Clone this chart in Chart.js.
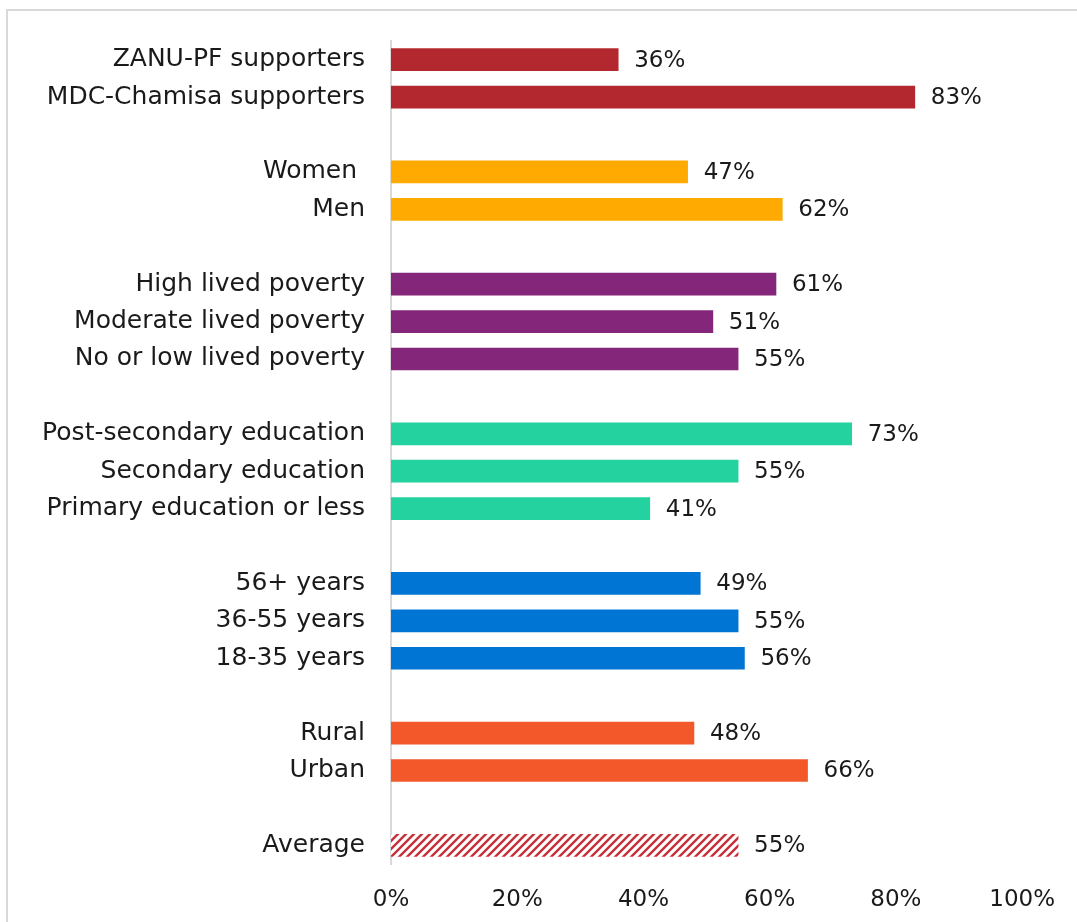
<!DOCTYPE html>
<html>
<head>
<meta charset="utf-8">
<script src="https://cdn.jsdelivr.net/npm/chart.js@4.4.1/dist/chart.umd.min.js"></script>
<style>
  body { margin: 0; background: #fff; overflow: hidden; }
  #frame { position: absolute; left: 6px; top: 9px; width: 1100px; height: 1000px; border: 2px solid #d9d9d9; }
  #barChart { position: absolute; left: 0; top: 0; }
</style>
</head>
<body>
<div id="frame"></div>
<canvas id="barChart" width="1077" height="922"></canvas>
<script>
    // data, blank entries are the gaps between groups
    const categories = [
        'ZANU-PF supporters', 'MDC-Chamisa supporters', '',
        'Women ', 'Men', '',
        'High lived poverty', 'Moderate lived poverty', 'No or low lived poverty', '',
        'Post-secondary education', 'Secondary education', 'Primary education or less', '',
        '56+ years', '36-55 years', '18-35 years', '',
        'Rural', 'Urban', '',
        'Average'
    ];
    const values = [
        36, 83, null,
        47, 62, null,
        61, 51, 55, null,
        73, 55, 41, null,
        49, 55, 56, null,
        48, 66, null,
        55
    ];
    const groupOf = [
        'party', 'party', null,
        'gender', 'gender', null,
        'poverty', 'poverty', 'poverty', null,
        'edu', 'edu', 'edu', null,
        'age', 'age', 'age', null,
        'area', 'area', null,
        'avg'
    ];
    const xTicks = [0, 20, 40, 60, 80, 100];

    const groupColors = {
        party: '#b3282e',
        gender: '#ffaa00',
        poverty: '#84267a',
        edu: '#23d29f',
        age: '#0075d4',
        area: '#f25829'
    };

    const FONT = 'DejaVu Sans';

    function hatchPattern() {
        const c = document.createElement('canvas');
        const s = 8;
        c.width = s; c.height = s;
        const g = c.getContext('2d');
        g.fillStyle = '#fff';
        g.fillRect(0, 0, s, s);
        g.strokeStyle = '#c8303a';
        g.lineWidth = 2.4;
        g.beginPath();
        g.moveTo(-1, s + 1); g.lineTo(s + 1, -1);
        g.moveTo(-1, 1); g.lineTo(1, -1);
        g.moveTo(s - 1, s + 1); g.lineTo(s + 1, s - 1);
        g.stroke();
        return document.getElementById('barChart').getContext('2d').createPattern(c, 'repeat');
    }

    const hatch = hatchPattern();
    const barColors = groupOf.map(g => g === 'avg' ? hatch : (g ? groupColors[g] : 'rgba(0,0,0,0)'));

    // value labels at the end of each bar
    const endLabels = {
        id: 'endLabels',
        afterDatasetsDraw(chart) {
            const ctx = chart.ctx;
            const meta = chart.getDatasetMeta(0);
            ctx.save();
            ctx.font = '23px "' + FONT + '"';
            ctx.fillStyle = '#1a1a1a';
            ctx.textAlign = 'left';
            ctx.textBaseline = 'middle';
            meta.data.forEach((bar, i) => {
                if (values[i] == null) return;
                ctx.fillText(values[i] + '%', bar.x + 16, bar.y + 1);
            });
            ctx.restore();
        }
    };

    const ctx = document.getElementById('barChart').getContext('2d');
    new Chart(ctx, {
        type: 'bar',
        data: {
            labels: categories,
            datasets: [{
                data: values,
                backgroundColor: barColors,
                barThickness: 22
            }]
        },
        options: {
            indexAxis: 'y',
            responsive: false,
            animation: false,
            layout: { padding: { left: 0, top: 38, right: 50, bottom: 0 } },
            plugins: { legend: { display: false }, tooltip: { enabled: false } },
            scales: {
                x: {
                    min: 0,
                    max: 100,
                    afterBuildTicks: (scale) => { scale.ticks = xTicks.map(v => ({ value: v })); },
                    afterFit: (scale) => { scale.height = 58; },
                    grid: { display: false, drawTicks: false },
                    border: { display: false },
                    ticks: {
                        padding: 22,
                        color: '#1a1a1a',
                        font: { family: FONT, size: 23 },
                        callback: (v) => v + '%'
                    }
                },
                y: {
                    afterFit: (scale) => { scale.width = 391; },
                    grid: { display: false, drawTicks: false },
                    border: { display: true, color: '#d9d9d9', width: 2 },
                    ticks: {
                        padding: 26,
                        autoSkip: false,
                        color: '#1a1a1a',
                        font: { family: FONT, size: 25 }
                    }
                }
            }
        },
        plugins: [endLabels]
    });
</script>
</body>
</html>
